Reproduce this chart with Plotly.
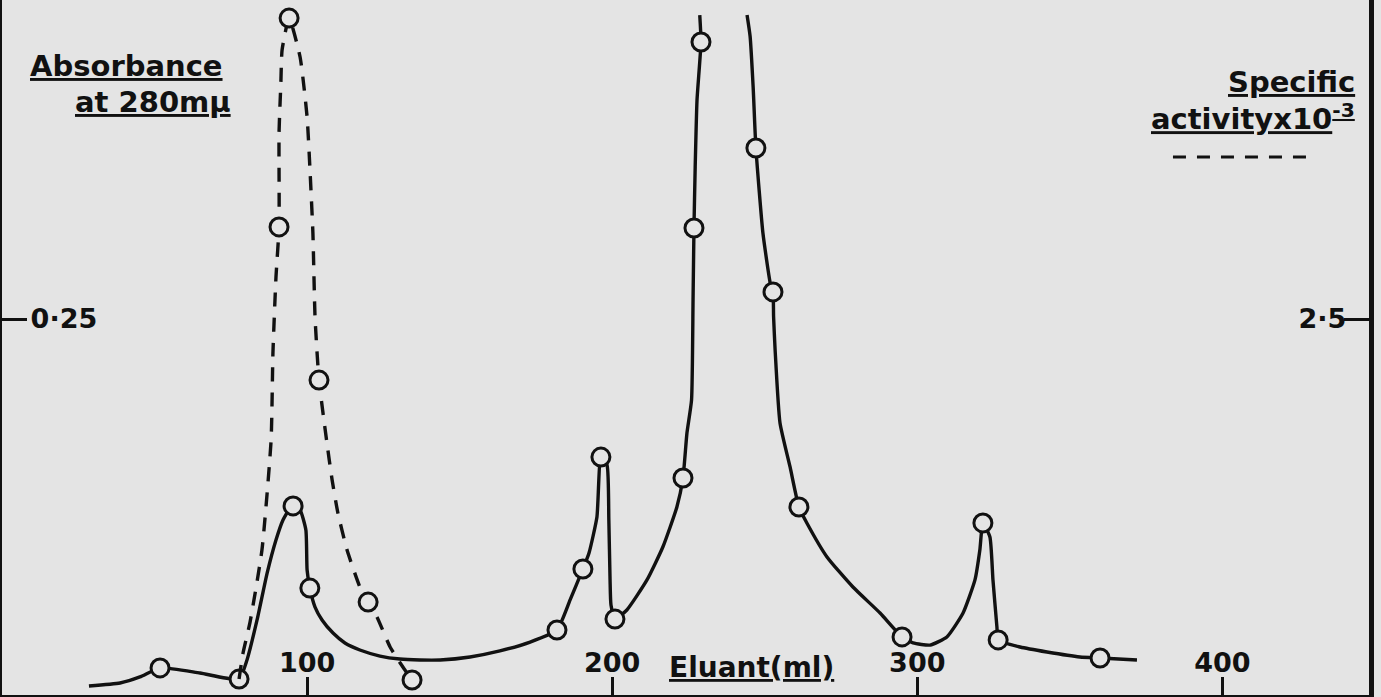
import plotly.graph_objects as go

# ---- data ----
# Absorbance at 280 mu (left axis) : measured points
abs_pts_ml = [51.8, 77.7, 95.4, 100.9, 181.9, 190.4, 196.3, 200.9, 223.2, 226.8,
              229.1, 247.1, 252.7, 261.2, 295.0, 321.5, 326.5, 359.9]
abs_pts_val = [0.0180, 0.0106, 0.1257, 0.0711, 0.0432, 0.0838, 0.1582, 0.0505, 0.1443, 0.3105,
               0.4342, 0.3637, 0.2680, 0.1250, 0.0386, 0.1144, 0.0366, 0.0246]

# hand-drawn absorbance curve (the big peak runs off the top of the sheet -> gap)
abs_curve_ml = [28.5, 38.7, 45.2, 51.8, 64.9, 77.7, 80.3, 83.6, 86.9, 89.8, 92.1, 94.4, 95.4,
                97.7, 99.6, 100.0, 100.9, 102.6, 104.9, 108.5, 112.4, 117.3, 123.9, 130.4,
                137.0, 143.6, 153.4, 163.2, 173.1, 181.9, 186.2, 190.4, 192.4, 195.0, 196.3,
                198.3, 198.9, 199.3, 199.6, 200.9, 204.8, 211.4, 216.6, 221.2, 223.2, 224.5,
                226.0, 226.5, 226.8, 227.2, 227.8, 229.1, 228.7,
                None,
                244.2, 245.2, 246.2, 247.1, 249.4, 251.8, 252.7, 252.9, 253.4, 255.0, 258.3,
                261.2, 263.8, 270.4, 278.9, 287.8, 295.0, 298.6, 304.2, 309.7, 315.0, 318.9,
                320.5, 321.5, 323.8, 324.8, 326.1, 326.5, 333.7, 342.5, 353.3, 359.9, 372.0]
abs_curve_val = [0.0060, 0.0080, 0.0120, 0.0180, 0.0146, 0.0106, 0.0233, 0.0499, 0.0811, 0.1031,
                 0.1164, 0.1243, 0.1257, 0.1230, 0.1097, 0.0831, 0.0711, 0.0585, 0.0499, 0.0412,
                 0.0346, 0.0299, 0.0259, 0.0239, 0.0233, 0.0233, 0.0253, 0.0293, 0.0352, 0.0432,
                 0.0632, 0.0838, 0.0944, 0.1184, 0.1582, 0.1529, 0.1164, 0.0765, 0.0598, 0.0505,
                 0.0565, 0.0765, 0.0984, 0.1250, 0.1443, 0.1742, 0.1961, 0.2626, 0.3105, 0.3511,
                 0.3956, 0.4342, 0.4521,
                 None,
                 0.4521, 0.4380, 0.4040, 0.3637, 0.3072, 0.2739, 0.2680, 0.2513, 0.2294, 0.1809,
                 0.1516, 0.1250, 0.1144, 0.0918, 0.0718, 0.0545, 0.0386, 0.0346, 0.0332, 0.0386,
                 0.0545, 0.0765, 0.0964, 0.1144, 0.1051, 0.0765, 0.0452, 0.0366, 0.0319, 0.0286,
                 0.0253, 0.0246, 0.0233]

# Specific activity x10^-3 (right axis, dashed)
spec_pts_ml = [90.8, 94.1, 103.9, 120.0, 134.4]
spec_pts_val = [3.112, 4.501, 2.094, 0.618, 0.100]
spec_curve_ml = [77.7, 79.0, 81.3, 85.2, 88.2, 88.8, 89.8, 90.8, 90.8, 91.4, 91.8, 94.1,
                 97.7, 100.0, 100.9, 101.9, 102.6, 103.9, 106.5, 108.2, 110.1, 113.1, 117.3,
                 120.0, 122.9, 127.2, 131.4, 134.4]
spec_curve_val = [0.106, 0.279, 0.485, 0.964, 1.695, 2.274, 2.779, 3.112, 3.737, 4.069, 4.289, 4.501,
                  4.242, 3.843, 3.511, 3.072, 2.513, 2.094, 1.676, 1.430, 1.210, 0.964, 0.718,
                  0.618, 0.519, 0.319, 0.186, 0.100]

x_tickvals = [100, 200, 300, 400]
x_ticktext = ["100", "200", "300", "400"]
yl_tickvals = [0.25]
yl_ticktext = ["0·25"]
yr_tickvals = [2.5]
yr_ticktext = ["2·5"]

BG = "#e4e4e4"
INK = "#111111"
FONT = "DejaVu Sans"

fig = go.Figure()

fig.add_trace(go.Scatter(x=abs_curve_ml, y=abs_curve_val, mode="lines",
                         line=dict(color=INK, width=3.4, shape="spline", smoothing=0.5),
                         connectgaps=False, hoverinfo="skip", showlegend=False))
fig.add_trace(go.Scatter(x=spec_curve_ml, y=spec_curve_val, mode="lines", yaxis="y2",
                         line=dict(color=INK, width=3.4, dash="14px,11px",
                                   shape="spline", smoothing=0.5),
                         hoverinfo="skip", showlegend=False))
fig.add_trace(go.Scatter(x=abs_pts_ml, y=abs_pts_val, mode="markers", cliponaxis=False,
                         marker=dict(symbol="circle", size=18, color=BG,
                                     line=dict(color=INK, width=3)),
                         showlegend=False, name="Absorbance at 280mμ"))
fig.add_trace(go.Scatter(x=spec_pts_ml, y=spec_pts_val, mode="markers", yaxis="y2",
                         cliponaxis=False,
                         marker=dict(symbol="circle", size=18, color=BG,
                                     line=dict(color=INK, width=3)),
                         showlegend=False, name="Specific activity x10-3"))

tickfont = dict(family=FONT, size=27, color=INK, weight="bold")

fig.update_layout(
    width=1381, height=697,
    margin=dict(l=2, r=12, t=0, b=2),
    paper_bgcolor=BG, plot_bgcolor=BG,
    font=dict(family=FONT, color=INK),
    xaxis=dict(range=[0, 448.05], showgrid=False, zeroline=False,
               showline=True, linecolor=INK, linewidth=4,
               ticks="inside", ticklen=18, tickwidth=3, tickcolor=INK,
               tickvals=x_tickvals, ticktext=x_ticktext,
               ticklabelposition="inside", ticklabelstandoff=2, tickfont=tickfont),
    yaxis=dict(range=[0, 0.4621], showgrid=False, zeroline=False,
               showline=True, linecolor=INK, linewidth=5,
               ticks="inside", ticklen=25, tickwidth=3, tickcolor=INK,
               tickvals=yl_tickvals, ticktext=yl_ticktext,
               ticklabelposition="inside", ticklabelstandoff=6, tickfont=tickfont),
    yaxis2=dict(range=[0, 4.621], overlaying="y", side="right", showgrid=False,
                zeroline=False, showline=True, linecolor=INK, linewidth=5,
                ticks="inside", ticklen=25, tickwidth=3, tickcolor=INK,
                tickvals=yr_tickvals, ticktext=yr_ticktext,
                ticklabelposition="inside", ticklabelstandoff=0, tickfont=tickfont),
)

lab = dict(family=FONT, size=29, color=INK)
fig.add_annotation(text="<b><u>Absorbance</u></b>", xref="paper", yref="paper",
                   x=0.019, y=0.905, xanchor="left", yanchor="middle",
                   showarrow=False, font=lab)
fig.add_annotation(text="<b><u>at 280mμ</u></b>", xref="paper", yref="paper",
                   x=0.0519, y=0.853, xanchor="left", yanchor="middle",
                   showarrow=False, font=lab)
fig.add_annotation(text="<b><u>Specific</u></b>", xref="paper", yref="paper",
                   x=0.9912, y=0.882, xanchor="right", yanchor="middle",
                   showarrow=False, font=lab)
fig.add_annotation(text="<b><u>activityx10<sup>-3</sup></u></b>", xref="paper", yref="paper",
                   x=0.9912, y=0.832, xanchor="right", yanchor="middle",
                   showarrow=False, font=lab)
fig.add_annotation(text="<b><u>Eluant(ml)</u></b>", xref="paper", yref="paper",
                   x=0.548, y=0.039, xanchor="center", yanchor="middle",
                   showarrow=False, font=dict(family=FONT, size=28, color=INK))
fig.add_shape(type="line", xref="paper", yref="paper",
              x0=0.8566, x1=0.9605, y0=0.774, y1=0.774,
              line=dict(color=INK, width=3, dash="13px,11px"))

fig.write_html("out.html")
